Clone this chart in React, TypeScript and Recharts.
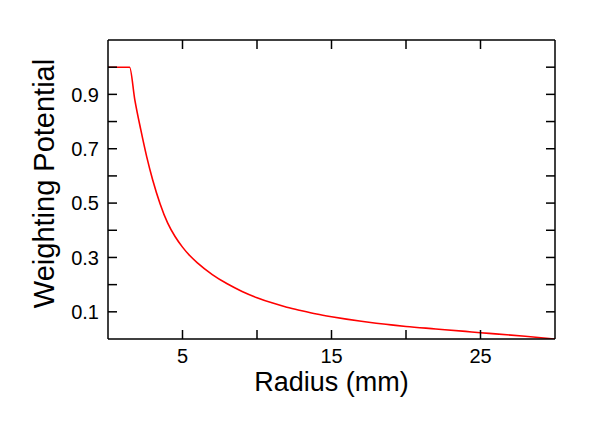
import React from 'react';
import { LineChart, Line, XAxis, YAxis, Label } from 'recharts';

// radius (mm)
const radius = [0, 1.45, 1.8, 2.2, 2.6, 3.0, 3.5, 4.0, 4.5, 5.0, 5.5, 6.0, 7.0, 8.0, 9.0, 10, 11, 12, 13, 14, 15, 16, 17, 18, 19, 20, 22, 24, 25, 26, 28, 30];
const potential = [1.0, 1.0, 0.88, 0.77, 0.67, 0.585, 0.497, 0.427, 0.377, 0.338, 0.306, 0.28, 0.237, 0.203, 0.175, 0.152, 0.133, 0.117, 0.104, 0.092, 0.082, 0.073, 0.065, 0.058, 0.052, 0.046, 0.037, 0.028, 0.023, 0.019, 0.01, 0.0];

const xTicks = [5, 10, 15, 20, 25];
const xTickLabels = [5, 15, 25];
const yTicks = [0.1, 0.2, 0.3, 0.4, 0.5, 0.6, 0.7, 0.8, 0.9, 1.0];
const yTickLabels = [0.1, 0.3, 0.5, 0.7, 0.9];

const data = radius.map((r, i) => ({ r, v: potential[i] }));

const FONT = '"Liberation Sans", Arial, Helvetica, sans-serif';
const TICK_LEN = 9;
const AXIS = { stroke: '#000', strokeWidth: 1.5 };

const BottomTick = (props: any) => {
  const { x, y, payload } = props;
  const show = xTickLabels.includes(payload.value);
  return (
    <g>
      <line x1={x} x2={x} y1={y} y2={y - TICK_LEN} stroke="#000" strokeWidth={1.5} />
      {show && (
        <text x={x} y={y + 24} textAnchor="middle" fontSize={20} fill="#000" fontFamily={FONT}>
          {payload.value}
        </text>
      )}
    </g>
  );
};

const TopTick = (props: any) => {
  const { x, y } = props;
  return <line x1={x} x2={x} y1={y} y2={y + TICK_LEN} stroke="#000" strokeWidth={1.5} />;
};

const LeftTick = (props: any) => {
  const { x, y, payload } = props;
  const show = yTickLabels.some((t) => Math.abs(t - payload.value) < 1e-6);
  return (
    <g>
      <line x1={x} x2={x + TICK_LEN} y1={y} y2={y} stroke="#000" strokeWidth={1.5} />
      {show && (
        <text x={x - 9} y={y} dy="0.36em" textAnchor="end" fontSize={20} fill="#000" fontFamily={FONT}>
          {payload.value.toFixed(1)}
        </text>
      )}
    </g>
  );
};

const RightTick = (props: any) => {
  const { x, y } = props;
  return <line x1={x} x2={x - TICK_LEN} y1={y} y2={y} stroke="#000" strokeWidth={1.5} />;
};

const XTitle = (props: any) => {
  const { viewBox } = props;
  return (
    <text x={viewBox.x + viewBox.width / 2} y={viewBox.y + 52} textAnchor="middle" fontSize={27} fill="#000" fontFamily={FONT}>
      Radius (mm)
    </text>
  );
};

const YTitle = (props: any) => {
  const { viewBox } = props;
  const cx = 44;
  const cy = viewBox.y + viewBox.height / 2 - 6;
  return (
    <text
      x={cx}
      y={cy}
      transform={`rotate(-90, ${cx}, ${cy})`}
      textAnchor="middle"
      dominantBaseline="central"
      fontSize={29}
      fill="#000"
      fontFamily={FONT}
    >
      Weighting Potential
    </text>
  );
};

export default function App() {
  return (
    <div style={{ width: 598, height: 424, background: '#fff' }}>
      <style>{'body{margin:0}'}</style>
      <LineChart width={598} height={424} data={data} margin={{ top: 39, right: 42, bottom: 0, left: 0 }}>
        <XAxis
          dataKey="r"
          type="number"
          domain={[0, 30]}
          ticks={xTicks}
          interval={0}
          height={85}
          axisLine={AXIS}
          tickLine={false}
          tickSize={0}
          tickMargin={0}
          tick={<BottomTick />}
          allowDataOverflow
        >
          <Label content={<XTitle />} />
        </XAxis>
        <XAxis
          xAxisId="top"
          orientation="top"
          dataKey="r"
          type="number"
          domain={[0, 30]}
          ticks={xTicks}
          interval={0}
          height={1}
          axisLine={AXIS}
          tickLine={false}
          tickSize={0}
          tickMargin={0}
          tick={<TopTick />}
          allowDataOverflow
        />
        <YAxis
          type="number"
          domain={[0, 1.1]}
          ticks={yTicks}
          interval={0}
          width={108}
          axisLine={AXIS}
          tickLine={false}
          tickSize={0}
          tickMargin={0}
          tick={<LeftTick />}
          allowDataOverflow
        >
          <Label content={<YTitle />} />
        </YAxis>
        <YAxis
          yAxisId="right"
          orientation="right"
          type="number"
          domain={[0, 1.1]}
          ticks={yTicks}
          interval={0}
          width={1}
          axisLine={AXIS}
          tickLine={false}
          tickSize={0}
          tickMargin={0}
          tick={<RightTick />}
          allowDataOverflow
        />
        <Line
          type="monotone"
          dataKey="v"
          stroke="#ff0000"
          strokeWidth={1.6}
          dot={false}
          isAnimationActive={false}
        />
        {/* invisible copy so the mirrored top/right axes get drawn */}
        <Line
          xAxisId="top"
          yAxisId="right"
          type="monotone"
          dataKey="v"
          stroke="none"
          dot={false}
          activeDot={false}
          legendType="none"
          isAnimationActive={false}
        />
      </LineChart>
    </div>
  );
}
